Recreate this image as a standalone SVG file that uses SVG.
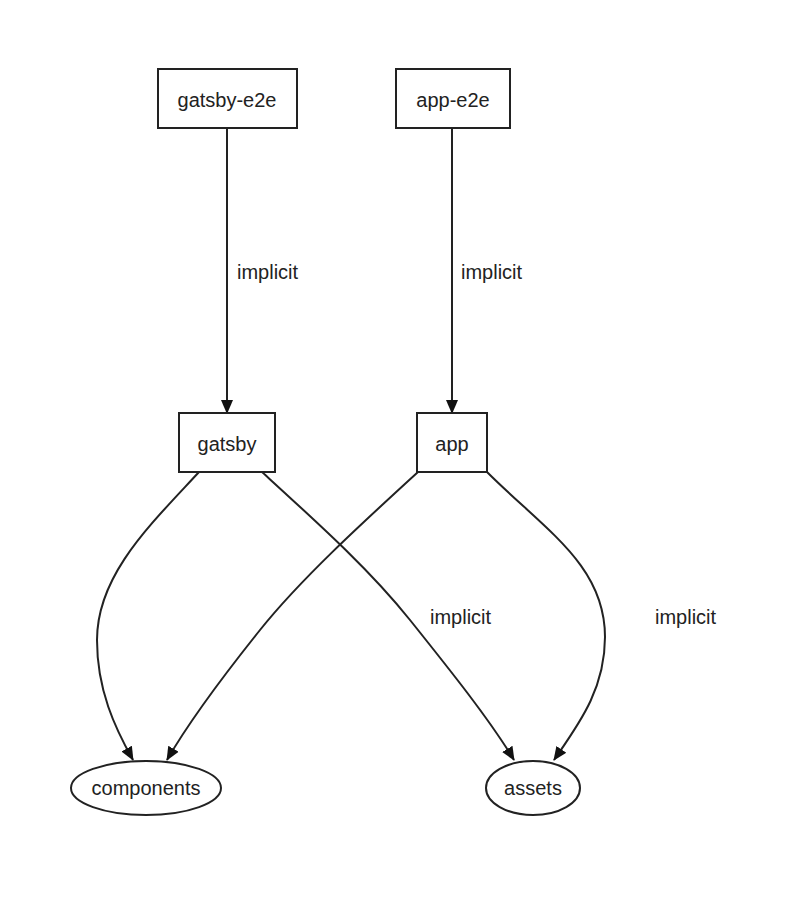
<svg xmlns="http://www.w3.org/2000/svg" width="802" height="906" viewBox="0 0 802 906">
<defs>
<style>
.node rect, .node ellipse { fill: #ffffff; stroke: #222222; stroke-width: 2; }
.node text { font-family: "Liberation Sans", Arial, sans-serif; font-size: 20px; fill: #222222; text-anchor: middle; }
.edge { fill: none; stroke: #222222; stroke-width: 2; }
.lbl { font-family: "Liberation Sans", Arial, sans-serif; font-size: 20px; fill: #222222; }
</style>
<marker id="arrow" viewBox="0 0 14 14" refX="13" refY="7" markerWidth="14" markerHeight="14" markerUnits="userSpaceOnUse" orient="auto">
<path d="M0,1 L14,7 L0,13 Z" fill="#111111"/>
</marker>
</defs>
<rect width="802" height="906" fill="#ffffff"/>
<g id="connectors">
<path class="edge" d="M227,128 L227,413" marker-end="url(#arrow)"/>
<path class="edge" d="M452,128 L452,413" marker-end="url(#arrow)"/>
<path class="edge" d="M199,472 C150,525 97,575 97,640 C97,690 115,728 133,760" marker-end="url(#arrow)"/>
<path class="edge" d="M418,472 C360,525 300,580 260,630 C220,680 190,720 167,760" marker-end="url(#arrow)"/>
<path class="edge" d="M262,472 C320,525 370,570 410,620 C450,670 490,720 514,760" marker-end="url(#arrow)"/>
<path class="edge" d="M487,472 C545,530 605,565 605,637 C605,690 578,725 554,760" marker-end="url(#arrow)"/>
<text class="lbl" x="237" y="279">implicit</text>
<text class="lbl" x="461" y="279">implicit</text>
<text class="lbl" x="430" y="624">implicit</text>
<text class="lbl" x="655" y="624">implicit</text>
</g>
<g id="node-gatsby-e2e" class="node">
<rect x="158" y="69" width="139" height="59"/>
<text x="227" y="107">gatsby-e2e</text>
</g>
<g id="node-app-e2e" class="node">
<rect x="396" y="69" width="114" height="59"/>
<text x="453" y="107">app-e2e</text>
</g>
<g id="node-gatsby" class="node">
<rect x="179" y="413" width="96" height="59"/>
<text x="227" y="451">gatsby</text>
</g>
<g id="node-app" class="node">
<rect x="417" y="413" width="70" height="59"/>
<text x="452" y="451">app</text>
</g>
<g id="node-components" class="node">
<ellipse cx="146" cy="788" rx="75" ry="27"/>
<text x="146" y="795">components</text>
</g>
<g id="node-assets" class="node">
<ellipse cx="533" cy="788" rx="47" ry="27"/>
<text x="533" y="795">assets</text>
</g>
</svg>
